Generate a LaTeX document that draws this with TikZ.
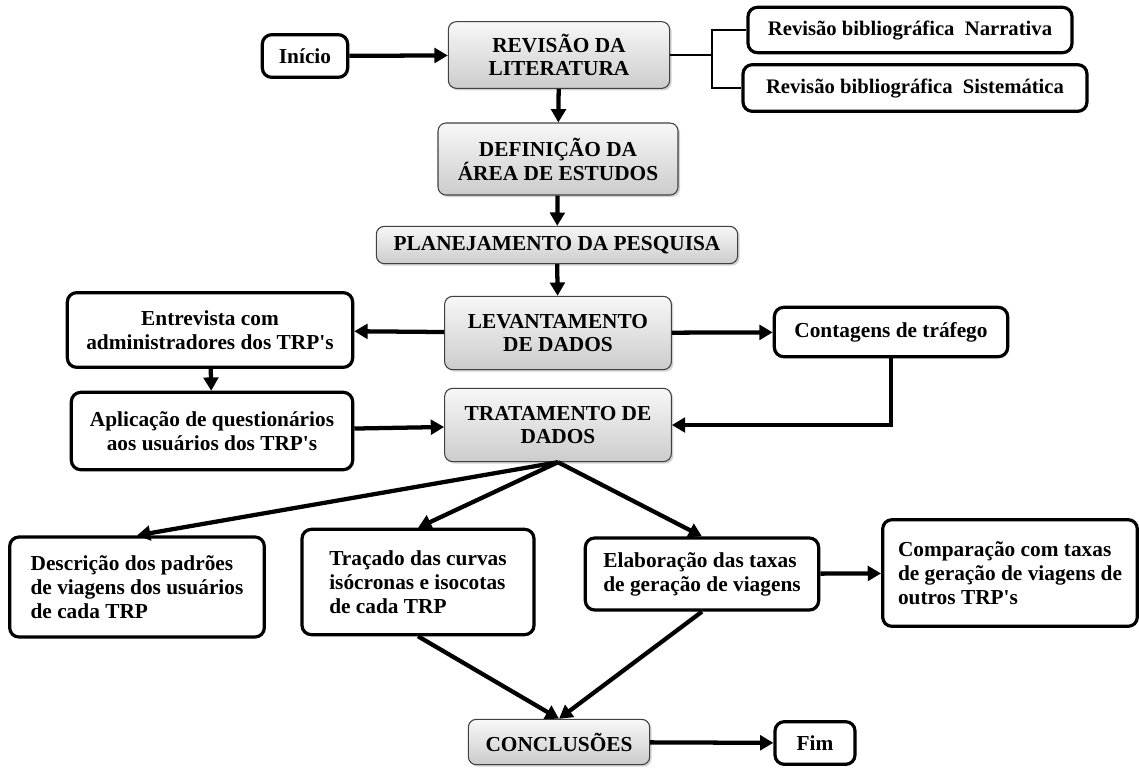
\documentclass[tikz,border=0pt]{standalone}
\usepackage{fontspec}
\setmainfont{Liberation Serif}[Ligatures=TeXOff]
\usetikzlibrary{arrows.meta,shadows}

\tikzset{
	etapa/.style={draw=black!75, line width=0.8pt, rounded corners=6pt,
		top color=gray!6, bottom color=gray!40,
		drop shadow={opacity=0.35, shadow xshift=1.5pt, shadow yshift=-1.5pt},
		font=\fontsize{16}{17}\selectfont\bfseries, align=center, inner sep=0pt},
	caixa/.style={draw, line width=2.4pt, rounded corners=7pt, fill=white,
		drop shadow={opacity=0.15, shadow xshift=1pt, shadow yshift=-1pt},
		font=\fontsize{16}{18}\selectfont\bfseries, align=center, inner sep=0pt},
	seta/.style={line width=3.2pt, -{Triangle[length=10pt,width=11pt]}},
	chave/.style={line width=2.2pt},
}

\begin{document}
\begin{tikzpicture}[x=0.75pt, y=-0.75pt]
	\useasboundingbox (0,0) rectangle (1139,769);
	%\draw[lightgray] (0,0) grid[step=50] (1139,769);

	% coluna central
	\node[caixa, minimum width=64pt, minimum height=32pt] (ini) at (305,56) {Início};
	\node[etapa, minimum width=166pt, minimum height=50pt] (rev) at (559,55) {REVISÃO DA\\LITERATURA};
	\node[caixa, font=\fontsize{15.5}{17}\selectfont\bfseries, minimum width=243pt, minimum height=34pt] (nar) at (910,30) {Revisão bibliográfica~ Narrativa};
	\node[caixa, font=\fontsize{15.5}{17}\selectfont\bfseries, minimum width=258pt, minimum height=35pt] (sis) at (915,88) {Revisão bibliográfica~ Sistemática};
	\node[etapa, minimum width=180pt, minimum height=54pt] (def) at (558,159) {DEFINIÇÃO DA\\ÁREA DE ESTUDOS};
	\node[etapa, minimum width=271pt, minimum height=28pt] (pla) at (557,245) {PLANEJAMENTO DA PESQUISA};
	\node[etapa, minimum width=170pt, minimum height=55pt] (lev) at (558,333) {LEVANTAMENTO\\DE DADOS};
	\node[caixa, minimum width=214pt, minimum height=56pt] (ent) at (210,330) {Entrevista com\\administradores dos TRP's};
	\node[caixa, minimum width=175pt, minimum height=37pt] (cont) at (891,332) {Contagens de tráfego};
	\node[caixa, minimum width=211pt, minimum height=58pt] (apl) at (212,431) {Aplicação de questionários\\aos usuários dos TRP's};
	\node[etapa, minimum width=170pt, minimum height=55pt] (trat) at (558,425) {TRATAMENTO DE\\DADOS};

	% resultados
	\node[caixa, align=left, minimum width=191pt, minimum height=75pt] (desc) at (137,587) {Descrição dos padrões\\de viagens dos usuários\\de cada TRP};
	\node[caixa, align=left, minimum width=174pt, minimum height=79pt] (trac) at (418,582) {Traçado das curvas\\isócronas e isocotas\\de cada TRP};
	\node[caixa, align=left, minimum width=175pt, minimum height=54pt] (elab) at (702,574) {Elaboração das taxas\\de geração de viagens};
	\node[caixa, align=left, minimum width=191pt, minimum height=80pt] (comp) at (1010,573) {Comparação com taxas\\de geração de viagens de\\outros TRP's};
	\node[etapa, minimum width=136pt, minimum height=34pt] (conc) at (559,742) {CONCLUSÕES};
	\node[caixa, minimum width=60pt, minimum height=32pt] (fim) at (815,743) {Fim};

	\coordinate (brk) at (712,55);
	\draw[chave] (rev.east) -- (brk);
	\draw[chave] (nar.west) -| (brk) |- (sis.west);

	\draw[seta] (ini) -- (rev);
	\draw[seta] (rev) -- (def);
	\draw[seta] (def) -- (pla);
	\draw[seta] (pla) -- (lev);
	\draw[seta] (lev) -- (ent);
	\draw[seta] (lev) -- (cont);
	\draw[seta] (ent) -- (apl);
	\draw[seta] (apl) -- (trat);
	\draw[seta] (cont) |- (trat);
	\draw[seta] (trat.south) -- (desc.north);
	\draw[seta] (trat.south) -- (trac.north);
	\draw[seta] (trat.south) -- (elab.north);
	\draw[seta] (elab) -- (comp);
	\draw[seta] (trac.south) -- (conc.north);
	\draw[seta] (elab.south) -- (conc.north);
	\draw[seta] (conc) -- (fim);
\end{tikzpicture}
\end{document}
